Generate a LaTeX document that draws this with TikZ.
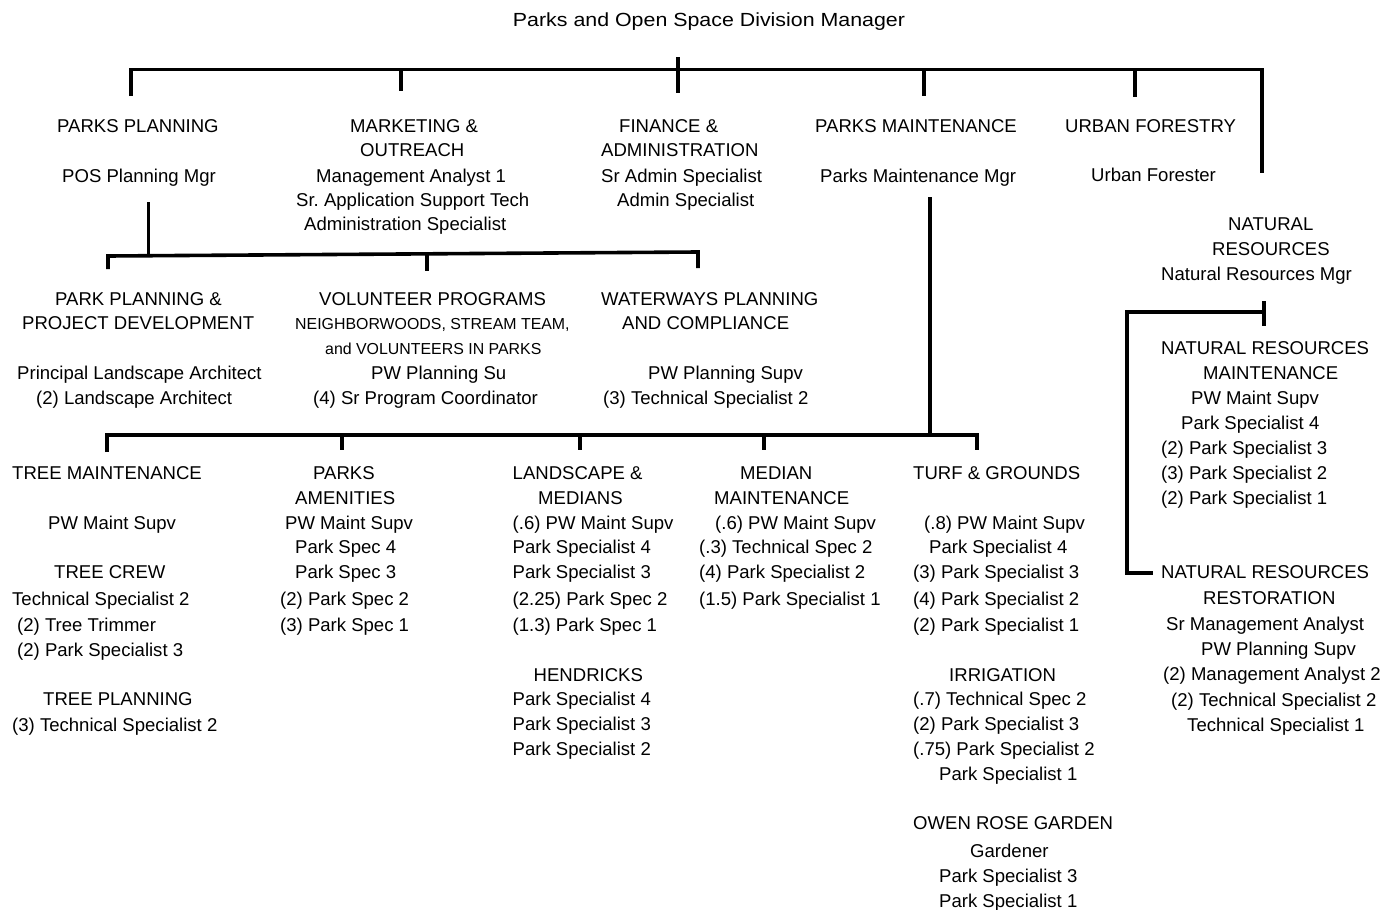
\documentclass[tikz,border=0pt]{standalone}
\usepackage{fontspec}
\usepackage{graphicx}
\setmainfont{Liberation Sans}
\newcommand\Tline[4]{\node[lbl] (#1) at (#2,#3+6.6) {#4};}
\newcommand\Sline[4]{\node[lbl,font=\fontsize{15.9}{19}\selectfont] (#1) at (#2,#3+5.7) {#4};}
\begin{document}
\begin{tikzpicture}[x=1pt,y=-1pt,
  lbl/.style={anchor=base west,inner sep=0pt,font=\fontsize{18.55}{22}\selectfont,text=black},
  conn/.style={line width=3.6pt,black,line cap=butt,line join=miter}]
\useasboundingbox[fill=white] (0,0) rectangle (1393,910);
% title
\node[anchor=base,inner sep=0pt,font=\fontsize{19}{23}\selectfont] (title) at (709,26.5) {\scalebox{1.125}[1]{Parks and Open Space Division Manager}};
% ---- connectors, top level
\coordinate (tA) at (131,96);   \coordinate (tAc) at (131,69.5);
\coordinate (tF) at (1262,173); \coordinate (tFc) at (1262,69.5);
\draw[conn] (tA) -- (tAc) -- (tFc) -- (tF);
\coordinate (tBt) at (401,69.5);  \coordinate (tBb) at (401,91);
\coordinate (tCt) at (678,57);    \coordinate (tCb) at (678,93);
\coordinate (tDt) at (924,69.5);  \coordinate (tDb) at (924,96);
\coordinate (tEt) at (1135,69.5); \coordinate (tEb) at (1135,97);
\draw[conn] (tBt) -- (tBb);
\draw[conn] (tCt) -- (tCb);
\draw[conn] (tDt) -- (tDb);
\draw[conn] (tEt) -- (tEb);
% ---- parks planning subtree
\coordinate (pV1) at (148.5,202); \coordinate (pV2) at (148.5,255.7);
\draw[conn] (pV1) -- (pV2);
\coordinate (pA) at (108,269); \coordinate (pAc) at (108,256);
\coordinate (pC) at (698,268); \coordinate (pCc) at (698,252);
\draw[conn] (pA) -- (pAc) -- (pCc) -- (pC);
\coordinate (pBt) at (427,253.8); \coordinate (pBb) at (427,271);
\draw[conn] (pBt) -- (pBb);
% ---- parks maintenance subtree
\coordinate (mV1) at (930,197); \coordinate (mV2) at (930,435);
\draw[conn] (mV1) -- (mV2);
\coordinate (mA) at (107,452); \coordinate (mAc) at (107,435);
\coordinate (mE) at (977,450); \coordinate (mEc) at (977,435);
\draw[conn] (mA) -- (mAc) -- (mEc) -- (mE);
\coordinate (mBt) at (342,435); \coordinate (mBb) at (342,450);
\coordinate (mCt) at (580,435); \coordinate (mCb) at (580,450);
\coordinate (mDt) at (764,435); \coordinate (mDb) at (764,450);
\draw[conn] (mBt) -- (mBb);
\draw[conn] (mCt) -- (mCb);
\draw[conn] (mDt) -- (mDb);
% ---- natural resources subtree
\coordinate (nT1) at (1264,301); \coordinate (nT2) at (1264,326);
\draw[conn] (nT1) -- (nT2);
\coordinate (nH) at (1264,312); \coordinate (nHc) at (1127,312);
\coordinate (nLc) at (1127,573); \coordinate (nL) at (1153,573);
\draw[conn] (nH) -- (nHc) -- (nLc) -- (nL);
% ---- level 1 texts
\Tline{a1}{57}{126}{PARKS PLANNING}
\Tline{a2}{62}{176}{POS Planning Mgr}
\Tline{b1}{350}{126}{MARKETING \&}
\Tline{b2}{360}{150}{OUTREACH}
\Tline{b3}{316}{175.5}{Management Analyst 1}
\Tline{b4}{296}{199.5}{Sr.\ Application Support Tech}
\Tline{b5}{304}{224}{Administration Specialist}
\Tline{c1}{619}{126}{FINANCE \&}
\Tline{c2}{601}{150}{ADMINISTRATION}
\Tline{c3}{601}{175.5}{Sr Admin Specialist}
\Tline{c4}{617}{199.5}{Admin Specialist}
\Tline{d1}{815}{126}{PARKS MAINTENANCE}
\Tline{d2}{820}{176}{Parks Maintenance Mgr}
\Tline{e1}{1065}{126}{URBAN FORESTRY}
\Tline{e2}{1091}{175}{Urban Forester}
\Tline{f1}{1228}{224}{NATURAL}
\Tline{f2}{1212}{248.5}{RESOURCES}
\Tline{f3}{1161}{273.5}{Natural Resources Mgr}
% ---- level 2 texts
\Tline{g1}{55}{298.5}{PARK PLANNING \&}
\Tline{g2}{22}{323}{PROJECT DEVELOPMENT}
\Tline{g3}{17}{373}{Principal Landscape Architect}
\Tline{g4}{36}{397.5}{(2) Landscape Architect}
\Tline{h1}{319}{298.5}{VOLUNTEER PROGRAMS}
\Sline{h2}{295}{324}{NEIGHBORWOODS, STREAM TEAM,}
\Sline{h3}{325}{349}{and VOLUNTEERS IN PARKS}
\Tline{h4}{371}{373}{PW Planning Su}
\Tline{h5}{313}{397.5}{(4) Sr Program Coordinator}
\Tline{i1}{601}{298.5}{WATERWAYS PLANNING}
\Tline{i2}{622}{323}{AND COMPLIANCE}
\Tline{i3}{648}{373}{PW Planning Supv}
\Tline{i4}{603}{397.5}{(3) Technical Specialist 2}
% ---- natural resources texts
\Tline{n1}{1161}{348}{NATURAL RESOURCES}
\Tline{n2}{1203}{373}{MAINTENANCE}
\Tline{n3}{1191}{397.5}{PW Maint Supv}
\Tline{n4}{1181}{423}{Park Specialist 4}
\Tline{n5}{1161}{447.5}{(2) Park Specialist 3}
\Tline{n6}{1161}{472.5}{(3) Park Specialist 2}
\Tline{n7}{1161}{497.5}{(2) Park Specialist 1}
\Tline{o1}{1161}{571.5}{NATURAL RESOURCES}
\Tline{o2}{1203}{598}{RESTORATION}
\Tline{o3}{1166}{623.5}{Sr Management Analyst}
\Tline{o4}{1201}{648.5}{PW Planning Supv}
\Tline{o5}{1163}{674}{(2) Management Analyst 2}
\Tline{o6}{1171}{699.5}{(2) Technical Specialist 2}
\Tline{o7}{1187}{724.5}{Technical Specialist 1}
% ---- level 3 texts
\Tline{j1}{12}{472.5}{TREE MAINTENANCE}
\Tline{j2}{48}{522.5}{PW Maint Supv}
\Tline{j3}{54}{571.5}{TREE CREW}
\Tline{j4}{12}{598.5}{Technical Specialist 2}
\Tline{j5}{17}{624.5}{(2) Tree Trimmer}
\Tline{j6}{17}{649.5}{(2) Park Specialist 3}
\Tline{j7}{43}{699}{TREE PLANNING}
\Tline{j8}{12}{724.5}{(3) Technical Specialist 2}
\Tline{k1}{313}{472.5}{PARKS}
\Tline{k2}{295}{497.5}{AMENITIES}
\Tline{k3}{285}{522.5}{PW Maint Supv}
\Tline{k4}{295}{547}{Park Spec 4}
\Tline{k5}{295}{571.5}{Park Spec 3}
\Tline{k6}{280}{598.5}{(2) Park Spec 2}
\Tline{k7}{280}{624.5}{(3) Park Spec 1}
\Tline{l1}{512.5}{472.5}{LANDSCAPE \&}
\Tline{l2}{538}{497.5}{MEDIANS}
\Tline{l3}{512.5}{522.5}{(.6) PW Maint Supv}
\Tline{l4}{512.5}{547}{Park Specialist 4}
\Tline{l5}{512.5}{571.5}{Park Specialist 3}
\Tline{l6}{512.5}{598.5}{(2.25) Park Spec 2}
\Tline{l7}{512.5}{624.5}{(1.3) Park Spec 1}
\Tline{l8}{533.5}{674.5}{HENDRICKS}
\Tline{l9}{512.5}{699}{Park Specialist 4}
\Tline{l10}{512.5}{724}{Park Specialist 3}
\Tline{l11}{512.5}{748.5}{Park Specialist 2}
\Tline{m1}{740}{472.5}{MEDIAN}
\Tline{m2}{714}{497.5}{MAINTENANCE}
\Tline{m3}{715}{522.5}{(.6) PW Maint Supv}
\Tline{m4}{699}{546.5}{(.3) Technical Spec 2}
\Tline{m5}{699}{571.5}{(4) Park Specialist 2}
\Tline{m6}{699}{598.5}{(1.5) Park Specialist 1}
\Tline{q1}{913}{472.5}{TURF \& GROUNDS}
\Tline{q2}{924}{522.5}{(.8) PW Maint Supv}
\Tline{q3}{929}{546.5}{Park Specialist 4}
\Tline{q4}{913}{571.5}{(3) Park Specialist 3}
\Tline{q5}{913}{598.5}{(4) Park Specialist 2}
\Tline{q6}{913}{624.5}{(2) Park Specialist 1}
\Tline{q7}{949}{674.5}{IRRIGATION}
\Tline{q8}{913}{699}{(.7) Technical Spec 2}
\Tline{q9}{913}{724}{(2) Park Specialist 3}
\Tline{q10}{913}{748.5}{(.75) Park Specialist 2}
\Tline{q11}{939}{773.5}{Park Specialist 1}
\Tline{q12}{913}{823}{OWEN ROSE GARDEN}
\Tline{q13}{970}{850.5}{Gardener}
\Tline{q14}{939}{875.5}{Park Specialist 3}
\Tline{q15}{939}{900.5}{Park Specialist 1}
\end{tikzpicture}
\end{document}
